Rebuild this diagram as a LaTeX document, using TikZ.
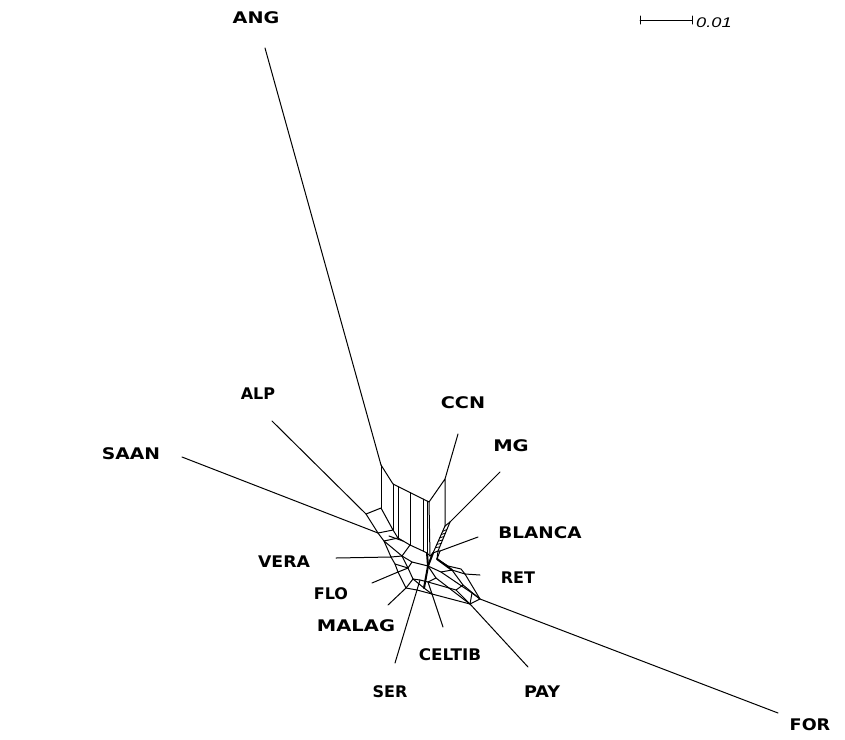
\documentclass[tikz,border=0pt]{standalone}
\usepackage{graphicx}
\usepackage{fontspec}
\usetikzlibrary{calc}
\setmainfont{DejaVu Sans}
\newfontfamily\barfont{Liberation Sans}
\newcommand{\lab}[2]{\scalebox{#1}[1]{#2}}
\begin{document}
\begin{tikzpicture}[x=1pt,y=-1pt,
  taxon/.style={font=\bfseries\fontsize{16}{18}\selectfont, inner sep=0pt},
  net/.style={line width=1pt, line join=round, line cap=round},
  heavy/.style={line width=2pt, line cap=round}]
\useasboundingbox[fill=white] (0,0) rectangle (845,739);

% ---------- labels ----------
\node[taxon] (ANG)    at (256,18)  {\lab{1.2}{ANG}};
\node[taxon] (ALP)    at (258,394) {ALP};
\node[taxon] (CCN)    at (463,403) {\lab{1.2}{CCN}};
\node[taxon] (MG)     at (511,446) {\lab{1.22}{MG}};
\node[taxon] (SAAN)   at (131,454) {\lab{1.17}{SAAN}};
\node[taxon] (BLANCA) at (540,533) {\lab{1.15}{BLANCA}};
\node[taxon] (VERA)   at (284,562) {\lab{1.08}{VERA}};
\node[taxon] (RET)    at (518,578) {RET};
\node[taxon] (FLO)    at (331,594) {FLO};
\node[taxon] (MALAG)  at (356,626) {\lab{1.22}{MALAG}};
\node[taxon] (CELTIB) at (450,655) {\lab{1.05}{CELTIB}};
\node[taxon] (SER)    at (390,692) {SER};
\node[taxon] (PAY)    at (542,692) {\lab{1.1}{PAY}};
\node[taxon] (FOR)    at (810,725) {\lab{1.1}{FOR}};

% ---------- scale bar ----------
\coordinate (b1) at (640,20);
\coordinate (b2) at (692,20);
\draw[net] (b1) -- (b2);
\draw[net] ([yshift=-4]b1) -- ([yshift=4]b1);
\draw[net] ([yshift=-4]b2) -- ([yshift=4]b2);
\node[anchor=west, inner sep=0pt, font=\barfont\itshape\fontsize{14}{16}\selectfont] (bar) at (696,23) {\lab{1.3}{0.01}};

% ---------- outer ends of leaf edges ----------
\coordinate (eANG)  at (265,48);
\coordinate (eALP)  at (272,421);
\coordinate (eSAAN) at (182,457);
\coordinate (eCCN)  at (458,434);
\coordinate (eMG)   at (500,472);
\coordinate (eBL)   at (478,537);
\coordinate (eVERA) at (336,558);
\coordinate (eRET)  at (480,575);
\coordinate (eFLO)  at (372,583);
\coordinate (eMAL)  at (388,605);
\coordinate (eSER)  at (395,663);
\coordinate (eCEL)  at (443,627);
\coordinate (ePAY)  at (528,667);
\coordinate (eFOR)  at (778,713);

% ---------- attachment points ----------
\coordinate (tANG)  at (381,465);
\coordinate (tALP)  at (366,514);
\coordinate (tSAAN) at (378,533);
\coordinate (tCCN)  at (445,479);
\coordinate (tMG)   at (450,522);
\coordinate (tBL)   at (440,551);
\coordinate (tVERA) at (391,557);
\coordinate (tRET)  at (465,574);
\coordinate (tFLO)  at (398,572);
\coordinate (tMAL)  at (406,588);
\coordinate (tSER)  at (417,590);
\coordinate (tCEL)  at (432,594);
\coordinate (tPAY)  at (470,604);
\coordinate (tFOR)  at (480,599);

% leaf edges
\foreach \a/\b in {eANG/tANG,eALP/tALP,eSAAN/tSAAN,eCCN/tCCN,eMG/tMG,eBL/tBL,
  eVERA/tVERA,eRET/tRET,eFLO/tFLO,eMAL/tMAL,eSER/tSER,eCEL/tCEL,ePAY/tPAY,eFOR/tFOR}
  \draw[net] (\a) -- (\b);

% ---------- upper box (ANG | CCN) ----------
\coordinate (u1) at (381,508);
\coordinate (u2) at (393,484);
\coordinate (u3) at (429,502);
\coordinate (w2) at (398,486.5);
\coordinate (w3) at (410,492.5);
\coordinate (w4) at (423,499);
\coordinate (w5) at (427,501);
\coordinate (C)  at (393,530);
\coordinate (Cp) at (398,538);
\coordinate (x3) at (410,545);
\coordinate (x4) at (423,551);
\coordinate (x5) at (427,553);
\coordinate (x6) at (430,556);
\coordinate (r1) at (445,526);
\draw[net] (tANG) -- (u1);
\draw[net] (tANG) -- (u2) -- (u3) -- (tCCN) -- (r1);
\foreach \a/\b in {u2/C,w2/Cp,w3/x3,w4/x4,w5/x5,u3/x6}
  \draw[net] (\a) -- (\b);

% ---------- left boxes (ALP, SAAN, VERA) ----------
\coordinate (Dp) at (384,541);
\coordinate (Vi) at (402,556);
\coordinate (y1) at (389,536);
\coordinate (y2) at (403,541);
\draw[net] (tALP) -- (u1) -- (C) -- (tSAAN) -- cycle;
\draw[net] (C) -- (Cp) -- (Dp) -- (tSAAN);
\draw[net] (y1) -- (y2);
\draw[net] (Cp) -- (x3) -- (x4) -- (x5) -- (x6);
\draw[net] (Dp) -- (tVERA);
\draw[net] (Dp) -- (Vi);
\draw[net] (Vi) -- (x3);

% ---------- MG band with hatching ----------
\coordinate (h1) at (433,553);
\coordinate (h2) at (438,551);
\draw[net] (r1) -- (tMG);
\draw[net] (r1) -- (h1);
\draw[net] (tMG) -- (h2);
\foreach \t in {0.2,0.32,0.44,0.56,0.68,0.8}
  \draw[line width=0.8pt] ($(r1)!\t!(h1)$) -- ($(tMG)!\t+0.06!(h2)$);
\draw[net] (x6) -- (h1) -- (h2) -- (tBL);

% ---------- lower ring ----------
\coordinate (H)   at (428,566);
\coordinate (Fi)  at (408,568);
\coordinate (Mai) at (413,579);
\coordinate (Sei) at (420,580);
\coordinate (Cei) at (428,582);
\coordinate (Pai) at (456,590);
\coordinate (Foi) at (463,585);
\coordinate (Rei) at (452,570);
\coordinate (Bli) at (437,559);
\coordinate (q1)  at (461,569);
\coordinate (q2)  at (448,566);
\coordinate (k1)  at (441,572);
\coordinate (k2)  at (472,593);
\coordinate (k3)  at (436,578);
\coordinate (k4)  at (462,598);
\coordinate (z1)  at (395,564);
\coordinate (z2)  at (424,588);
\coordinate (z3)  at (412,562);

\draw[net] (tVERA) -- (z1) -- (tFLO) -- (tMAL) -- (tSER) -- (tCEL) -- (tPAY) -- (tFOR) -- (tRET);
\draw[net] (Vi) -- (Fi) -- (Mai) -- (Sei) -- (Cei) -- (Pai) -- (Foi) -- (Rei) -- (Bli) -- (h2);
\foreach \a/\b in {tVERA/Vi,tFLO/Fi,tMAL/Mai,tSER/Sei,tCEL/Cei,tPAY/Pai,tFOR/Foi,tRET/Rei,tBL/Bli,z1/Fi}
  \draw[net] (\a) -- (\b);
\draw[net] (tRET) -- (q1) -- (q2);
\draw[net] (q2) -- (Bli);
\draw[net] (H) -- (k1) -- (k2) -- (tFOR);
\draw[net] (k2) -- (tPAY);
\draw[net] (H) -- (k3) -- (k4) -- (tPAY);
\draw[net] (k1) -- (Rei);
\draw[net] (k3) -- (Cei);
\draw[net] (Fi) -- (z3) -- (H);
\draw[net] (Vi) -- (z3);
\draw[net] (Mai) -- (z2);
\draw[net] (z2) -- (tCEL);
\draw[heavy] (h1) -- (H) -- (z2);
\draw[heavy] (Bli) -- (Rei);
\draw[heavy] (x5) -- (H);
\end{tikzpicture}
\end{document}
